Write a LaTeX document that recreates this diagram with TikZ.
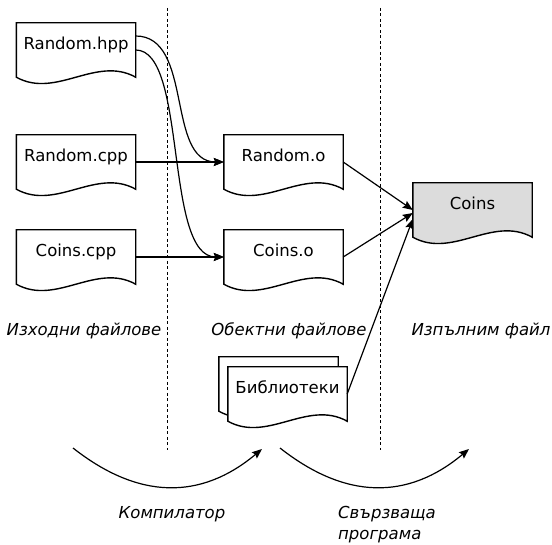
\documentclass[tikz,border=0pt]{standalone}
\usepackage{fontspec}
\setmainfont{DejaVu Sans}
\usetikzlibrary{arrows.meta,backgrounds,calc}
\definecolor{docgray}{RGB}{220,220,220}
\tikzset{
  doc/.style={inner xsep=0pt, inner ysep=0pt, minimum width=119pt,
    text height=27pt, text depth=27pt, anchor=base},
  docline/.style={line width=1.4pt, line join=miter},
  link/.style={line width=1.2pt, -{Stealth[length=10pt,width=8pt,inset=1.5pt]}},
  sepline/.style={line width=0.9pt, dash pattern=on 3pt off 2.5pt},
  capt/.style={font=\fontsize{16.5}{21}\selectfont\itshape, inner sep=0pt},
}
\newcommand\docoutline[2]{%
  \begin{pgfonlayer}{background}
  \draw[docline, fill=#2] (#1.north west) -- (#1.north east) -- (#1.south east)
    .. controls ([shift={(-39.7,-22)}]#1.south east) and ([shift={(39.7,22)}]#1.south west) .. (#1.south west) -- cycle;
  \end{pgfonlayer}}
\begin{document}
\begin{tikzpicture}[x=1pt, y=-1pt, every node/.style={font=\fontsize{16.5}{21}\selectfont}]
\useasboundingbox (0,0) rectangle (552,545);

% separators
\coordinate (s1t) at (167,8);
\coordinate (s1b) at (167,450);
\coordinate (s2t) at (380,8);
\coordinate (s2b) at (380,450);
\draw[sepline] (s1t) -- (s1b);
\draw[sepline] (s2t) -- (s2b);

% documents
\node[doc] (rhpp) at (76,50) {Random.hpp};
\node[doc] (rcpp) at (76,162) {Random.cpp};
\node[doc] (ccpp) at (76,257) {Coins.cpp};
\node[doc] (ro) at (283.5,162) {Random.o};
\node[doc] (co) at (283.5,257) {Coins.o};
\node[doc] (coins) at (472.5,210) {Coins};
\node[doc] (libb) at (278.5,384) {};
\node[doc] (lib) at (287.5,394) {Библиотеки};
\docoutline{rhpp}{white}
\docoutline{rcpp}{white}
\docoutline{ccpp}{white}
\docoutline{ro}{white}
\docoutline{co}{white}
\docoutline{coins}{docgray}
\docoutline{libb}{white}
\docoutline{lib}{white}

% connectors
\draw[link] ([yshift=14pt]rhpp.east) .. controls ($([yshift=14pt]rhpp.east)+(58,0)$) and ($(ro.west)+(-58,0)$) .. (ro.west);
\draw[link] (rhpp.east) .. controls ($(rhpp.east)+(52,0)$) and ($(co.west)+(-60,0)$) .. (co.west);
\draw[link] (rcpp.east) -- (ro.west);
\draw[link] (ccpp.east) -- (co.west);
\draw[link] (ro.east) -- (coins.west);
\draw[link] (co.east) -- ([yshift=-3pt]coins.west);
\draw[link] (lib.east) -- ([yshift=-9pt]coins.west);

% column captions
\node[capt, anchor=base] (c1) at (84,336) {Изходни файлове};
\node[capt, anchor=base] (c2) at (289,336) {Обектни файлове};
\node[capt, anchor=base] (c3) at (481,336) {Изпълним файл};

% process arcs
\coordinate (a1s) at (73,448);
\coordinate (a1e) at (262,449);
\coordinate (a2s) at (280,448);
\coordinate (a2e) at (469,449);
\draw[link] (a1s) .. controls (139,500) and (201,500) .. (a1e);
\draw[link] (a2s) .. controls (346,500) and (408,500) .. (a2e);
\node[capt, anchor=base] (comp) at (172,518) {Компилатор};
\node[capt, anchor=base west, align=left] (link) at (338,539) {Свързваща\\програма};
\end{tikzpicture}
\end{document}
